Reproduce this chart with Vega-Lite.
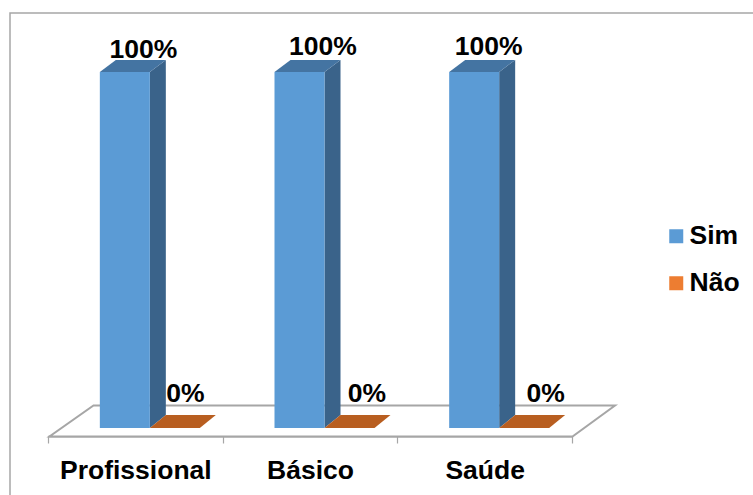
{
  "$schema": "https://vega.github.io/schema/vega-lite/v6.json",
  "width": 745,
  "height": 484,
  "autosize": {"type": "none"},
  "padding": {"left": 10, "top": 13, "right": 0, "bottom": 0},
  "background": "white",
  "config": {
    "view": {"stroke": "#a6a6a6", "strokeWidth": 1.5},
    "font": "Liberation Sans"
  },
  "data": {
    "values": [
      {"categoria": "Profissional", "serie": "Sim", "valor": 1},
      {"categoria": "Profissional", "serie": "Não", "valor": 0},
      {"categoria": "Básico", "serie": "Sim", "valor": 1},
      {"categoria": "Básico", "serie": "Não", "valor": 0},
      {"categoria": "Saúde", "serie": "Sim", "valor": 1},
      {"categoria": "Saúde", "serie": "Não", "valor": 0}
    ]
  },
  "encoding": {
    "x": {
      "field": "categoria",
      "type": "nominal",
      "scale": {"type": "band", "domain": ["Profissional", "Básico", "Saúde"], "range": [38, 562], "paddingInner": 0, "paddingOuter": 0},
      "axis": {
        "title": null,
        "labelAngle": 0,
        "offset": -61,
        "domainColor": "#a6a6a6",
        "domainWidth": 2,
        "tickColor": "#a6a6a6",
        "tickWidth": 1.2,
        "tickSize": 7,
        "tickBand": "extent",
        "grid": false,
        "labelFont": "Liberation Sans",
        "labelFontWeight": "bold",
        "labelFontSize": 26.5,
        "labelColor": "#000000",
        "labelPadding": 14
      }
    },
    "y": {
      "field": "valor",
      "type": "quantitative",
      "scale": {"domain": [-0.1938, 1.1657], "nice": false, "zero": false},
      "axis": null
    }
  },
  "layer": [
    {
      "description": "Floor of the 3D plot",
      "transform": [{"filter": "datum.categoria === 'Básico' && datum.serie === 'Não'"}],
      "mark": {
        "type": "point",
        "shape": "M-260.5,8.5L262.5,8.5L305,-22.5L-216.5,-22.5Z",
        "size": 4,
        "filled": false,
        "opacity": 1,
        "stroke": "#a6a6a6",
        "strokeWidth": 2,
        "fill": "white"
      }
    },
    {
      "description": "Side face of the columns",
      "transform": [{"filter": "datum.valor > 0"}],
      "mark": {"type": "bar", "size": 16, "xOffset": 22.5, "y2Offset": -13, "color": "#3a638a"},
      "encoding": {"y2": {"datum": 0}}
    },
    {
      "description": "Upper corner of the side face",
      "transform": [{"filter": "datum.valor > 0"}],
      "mark": {"type": "point", "shape": "M14.5,0L30.5,-12L30.5,0Z", "size": 4, "filled": true, "opacity": 1, "strokeWidth": 0, "color": "#3a638a"}
    },
    {
      "description": "Lower corner of the side face",
      "transform": [{"filter": "datum.valor > 0"}],
      "mark": {"type": "point", "shape": "M14.5,0L30.5,-13L14.5,-13Z", "size": 4, "filled": true, "opacity": 1, "strokeWidth": 0, "color": "#3a638a"},
      "encoding": {"y": {"datum": 0}}
    },
    {
      "description": "Top face of the columns",
      "transform": [{"filter": "datum.valor > 0"}],
      "mark": {"type": "point", "shape": "M-35.5,0L14.5,0L30.5,-12L-19.5,-12Z", "size": 4, "filled": true, "opacity": 1, "strokeWidth": 0, "color": "#4474a2"}
    },
    {
      "description": "Zero-height series seen from above",
      "transform": [{"filter": "datum.valor === 0"}],
      "mark": {"type": "point", "shape": "M14.5,0L64.5,0L80.5,-13L30.5,-13Z", "size": 4, "filled": true, "opacity": 1, "strokeWidth": 0, "color": "#b85e20"}
    },
    {
      "description": "Front face of the columns, carrying the legend",
      "mark": {"type": "bar", "size": 50, "xOffset": -10.5},
      "encoding": {
        "y2": {"datum": 0},
        "color": {
          "field": "serie",
          "type": "nominal",
          "scale": {"domain": ["Sim", "Não"], "range": ["#5b9bd5", "#ed7d31"]},
          "legend": {
            "title": null,
            "orient": "none",
            "legendX": 653,
            "legendY": 210,
            "padding": 0,
            "symbolType": "square",
            "symbolSize": 196,
            "symbolStrokeWidth": 0,
            "symbolOpacity": 1,
            "labelFont": "Liberation Sans",
            "labelFontWeight": "bold",
            "labelFontSize": 26.5,
            "labelColor": "#000000",
            "labelOffset": 0,
            "rowPadding": 20
          }
        }
      }
    },
    {
      "description": "Value labels",
      "mark": {
        "type": "text",
        "font": "Liberation Sans",
        "fontWeight": "bold",
        "fontSize": 26.5,
        "color": "#000000",
        "baseline": "alphabetic",
        "align": "center",
        "dx": {"expr": "datum.valor > 0 ? (datum.categoria === 'Profissional' ? 8 : datum.categoria === 'Básico' ? 13 : 4) : (datum.categoria === 'Profissional' ? 50 : datum.categoria === 'Básico' ? 57 : 61)"},
        "dy": {"expr": "datum.valor > 0 ? (datum.categoria === 'Profissional' ? -14 : -17) : -26"}
      },
      "encoding": {
        "text": {"field": "valor", "type": "quantitative", "format": ".0%"}
      }
    }
  ]
}
